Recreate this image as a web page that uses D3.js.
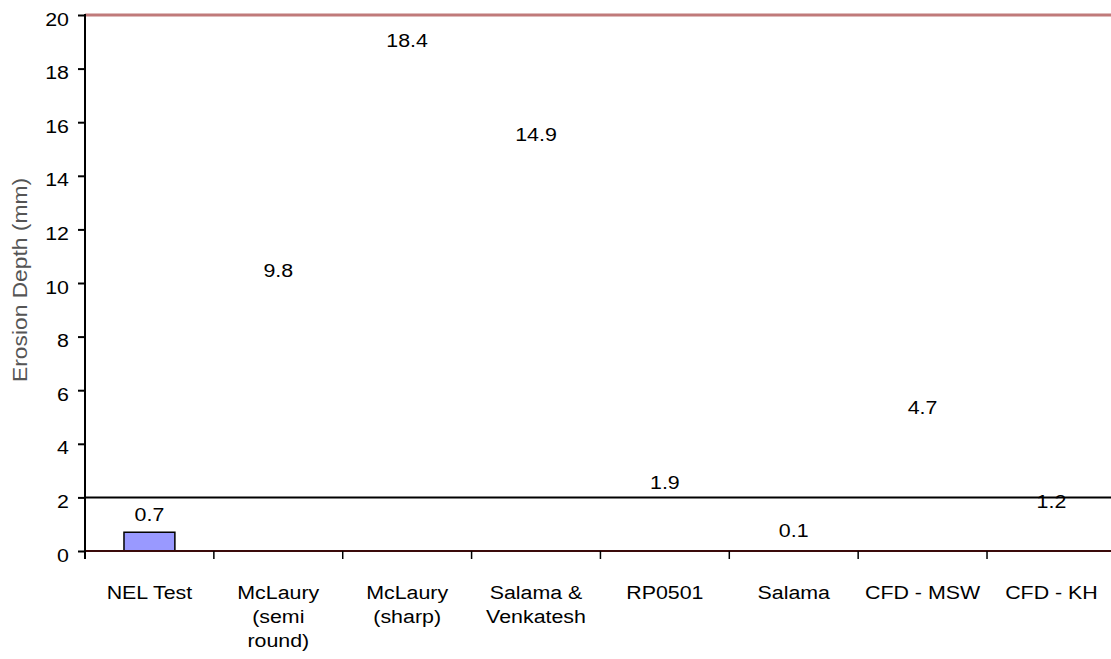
<!DOCTYPE html>
<html>
<head>
<meta charset="utf-8">
<script src="https://cdnjs.cloudflare.com/ajax/libs/d3/7.8.5/d3.min.js"></script>
<style>
  html, body { margin: 0; padding: 0; background: #fff; }
  svg { display: block; }
  text { font-family: "Liberation Sans", Arial, sans-serif; }
</style>
</head>
<body>
<svg id="chart" width="1111" height="659"></svg>
<script>
const categories = [
  ["NEL Test"],
  ["McLaury", "(semi", "round)"],
  ["McLaury", "(sharp)"],
  ["Salama &", "Venkatesh"],
  ["RP0501"],
  ["Salama"],
  ["CFD - MSW"],
  ["CFD - KH"]
];
const values = [0.7, 9.8, 18.4, 14.9, 1.9, 0.1, 4.7, 1.2];
const visible = [true, false, false, false, false, false, false, false];
const yTicks = [0, 2, 4, 6, 8, 10, 12, 14, 16, 18, 20];
const refLines = [2, 20];

(function () {
const svg = d3.select("#chart");
const mLeft = 85, mTop = 15, mBottom = 551;
const bandW = 128.86;
const mRight = mLeft + bandW * categories.length;
const FS = 18.6, SX = 1.15;

const x = d3.scaleBand().domain(d3.range(categories.length)).range([mLeft, mRight]).paddingInner(0).paddingOuter(0);
const y = d3.scaleLinear().domain([0, 20]).range([mBottom, mTop]);

function stretchText(sel, px, py, str, anchor) {
  return sel.append("text")
    .attr("transform", `translate(${px},${py}) scale(${SX},1)`)
    .attr("text-anchor", anchor)
    .attr("font-size", FS)
    .attr("fill", "#000")
    .text(str);
}

// reference lines
svg.append("line")
  .attr("x1", mLeft).attr("x2", 1111)
  .attr("y1", y(refLines[1])).attr("y2", y(refLines[1]))
  .attr("stroke", "#c07a7a").attr("stroke-width", 3);
svg.append("line")
  .attr("x1", mLeft).attr("x2", 1111)
  .attr("y1", y(refLines[0])).attr("y2", y(refLines[0]))
  .attr("stroke", "#000").attr("stroke-width", 2);

// bars
const barW = x.bandwidth() * 0.395;
svg.selectAll("rect.bar").data(values).enter().append("rect")
  .attr("class", "bar")
  .attr("x", (d, i) => x(i) + (x.bandwidth() - barW) / 2)
  .attr("y", d => y(d))
  .attr("width", barW)
  .attr("height", d => y(0) - y(d))
  .attr("fill", (d, i) => visible[i] ? "#9999ff" : "none")
  .attr("stroke", (d, i) => visible[i] ? "#000" : "none")
  .attr("stroke-width", 1.5);

// x axis line
svg.append("line")
  .attr("x1", mLeft).attr("x2", 1111)
  .attr("y1", y(0)).attr("y2", y(0))
  .attr("stroke", "#3a0a0a").attr("stroke-width", 2);

// x ticks at band boundaries
svg.selectAll("line.xt").data(d3.range(categories.length)).enter().append("line")
  .attr("class", "xt")
  .attr("x1", i => x(i)).attr("x2", i => x(i))
  .attr("y1", y(0)).attr("y2", y(0) + 8)
  .attr("stroke", "#000").attr("stroke-width", 1.5);

// y axis ticks (labels drawn separately for stretched font)
const yAxis = d3.axisLeft(y).tickValues(yTicks).tickSize(7).tickFormat("");
const ga = svg.append("g").attr("transform", `translate(${mLeft},0)`).call(yAxis);
ga.select(".domain").remove();
ga.selectAll(".tick line").attr("stroke", "#000").attr("stroke-width", 2);
yTicks.forEach(t => stretchText(svg, mLeft - 16, y(t) + 10.5, d3.format("d")(t), "end"));
svg.append("line")
  .attr("x1", mLeft).attr("x2", mLeft)
  .attr("y1", y(20) - 1).attr("y2", y(0) + 8)
  .attr("stroke", "#000").attr("stroke-width", 2);

// value labels
values.forEach((d, i) => {
  stretchText(svg, x(i) + x.bandwidth() / 2, y(d) - 11, d3.format(".1f")(d), "middle");
});

// category labels
categories.forEach((lines, i) => {
  lines.forEach((ln, k) => {
    stretchText(svg, x(i) + x.bandwidth() / 2, 599 + k * 24, ln, "middle");
  });
});

// y axis title
svg.append("text")
  .attr("transform", `translate(27, 280) rotate(-90)`)
  .attr("text-anchor", "middle")
  .attr("font-size", 20)
  .attr("fill", "#555")
  .attr("textLength", 204)
  .attr("lengthAdjust", "spacingAndGlyphs")
  .text("Erosion Depth (mm)");
})();
</script>
</body>
</html>
